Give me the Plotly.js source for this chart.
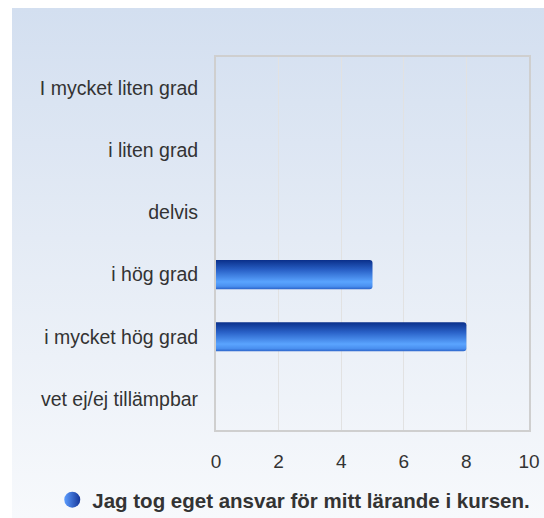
<!DOCTYPE html>
<html><head><meta charset="utf-8">
<script src="https://cdn.plot.ly/plotly-3.0.1.min.js"></script>
<style>
body{margin:0;background:#fff;}
#bg{position:absolute;left:12px;top:8px;width:532px;height:510px;background:linear-gradient(to bottom,#d3dff0 0%,#e4ebf5 45%,#f7f9fc 100%);}
#chart{position:absolute;left:0;top:0;width:544px;height:518px;}
</style></head>
<body>
<div id="bg"></div>
<div id="chart"></div>
<script>
var categories = ["I mycket liten grad","i liten grad","delvis","i hög grad","i mycket hög grad","vet ej/ej tillämpbar"];
var values = [0,0,0,5,8,0];
var seriesName = "Jag tog eget ansvar för mitt lärande i kursen.";
var xTicks = [0,2,4,6,8,10];

var traces = [
  {type:'bar', orientation:'h', y:categories, x:values, width:0.47, showlegend:false,
   marker:{color:'#2f6fd6', cornerradius:3, line:{width:0}}, hoverinfo:'none'},
  {type:'scatter', mode:'markers', x:[null], y:[null], name:seriesName, showlegend:true,
   marker:{symbol:'circle', size:17, color:'#5c9dff', gradient:{type:'horizontal', color:'#16379a'}, line:{width:0}}}
];
var layout = {
  width:544, height:518,
  margin:{l:216, r:15, t:57, b:88},
  paper_bgcolor:'rgba(0,0,0,0)', plot_bgcolor:'rgba(0,0,0,0)',
  font:{family:'Liberation Sans, Arial, sans-serif', size:19, color:'#333'},
  xaxis:{range:[0,10], tickvals:xTicks, ticktext:xTicks.map(String), showgrid:true, gridcolor:'#e2e2e2', gridwidth:1,
         zeroline:false, showline:true, mirror:true, linecolor:'#cfcfcf', linewidth:2, ticks:'', ticklabelstandoff:13,
         tickfont:{size:19,color:'#333'}},
  yaxis:{categoryorder:'array', categoryarray:categories, autorange:'reversed', showgrid:false, zeroline:false,
         showline:true, mirror:true, linecolor:'#cfcfcf', linewidth:2, ticks:'', ticklabelstandoff:12,
         tickfont:{size:19.5,color:'#333'}},
  showlegend:true,
  legend:{orientation:'h', x:0.54, xref:'container', xanchor:'center', y:0.035, yref:'container', yanchor:'middle',
          font:{size:20.5, color:'#333', family:'Liberation Sans, Arial, sans-serif', weight:'bold'}, bgcolor:'rgba(0,0,0,0)'},
  bargap:0.5
};
Plotly.newPlot('chart', traces, layout, {staticPlot:true, displayModeBar:false}).then(function(gd){
  var svg = gd.querySelector('svg.main-svg');
  var ns = 'http://www.w3.org/2000/svg';
  var defs = svg.querySelector('defs');
  var lg = document.createElementNS(ns,'linearGradient');
  lg.setAttribute('id','barGrad'); lg.setAttribute('x1','0'); lg.setAttribute('y1','0'); lg.setAttribute('x2','0'); lg.setAttribute('y2','1');
  [['0','#0a2f8a'],['0.35','#2a62c8'],['0.75','#5aa4ff'],['0.9','#4a90f0'],['1','#2b63c9']].forEach(function(s){
    var st=document.createElementNS(ns,'stop'); st.setAttribute('offset',s[0]); st.setAttribute('stop-color',s[1]); lg.appendChild(st);
  });
  defs.appendChild(lg);
  gd.querySelectorAll('.barlayer .point path').forEach(function(p){ p.style.fill='url(#barGrad)'; });
});
</script>
</body></html>
